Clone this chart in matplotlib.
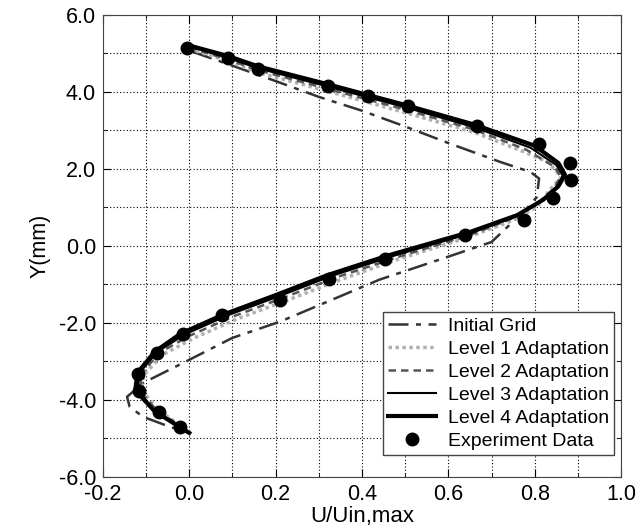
import matplotlib.pyplot as plt
from matplotlib.ticker import MultipleLocator

plt.rcParams['font.family'] = ['Liberation Sans', 'DejaVu Sans']

# experiment data
x_exp = [-0.005, 0.089, 0.159, 0.321, 0.413, 0.506, 0.666, 0.809, 0.881, 0.883, 0.842, 0.775,
         0.638, 0.453, 0.323, 0.21, 0.075, -0.015, -0.075, -0.119, -0.117, -0.07, -0.022]
y_exp = [5.14, 4.88, 4.60, 4.16, 3.90, 3.64, 3.12, 2.65, 2.16, 1.71, 1.25, 0.68,
         0.27, -0.34, -0.86, -1.40, -1.79, -2.30, -2.78, -3.32, -3.77, -4.31, -4.70]

# initial grid
x0 = [0.008, 0.10, 0.20, 0.30, 0.40, 0.50, 0.60, 0.72, 0.79, 0.81, 0.805, 0.78, 0.70, 0.60,
      0.44, 0.32, 0.21, 0.10, 0.0, -0.105, -0.144, -0.138, -0.107, -0.045, 0.001]
y0 = [5.04, 4.68, 4.28, 3.87, 3.51, 3.10, 2.67, 2.18, 1.92, 1.75, 1.27, 0.95, 0.10, -0.28,
      -0.88, -1.45, -1.97, -2.39, -2.96, -3.55, -3.92, -4.18, -4.44, -4.70, -4.86]

# level 1
x1 = [0.0, 0.09, 0.16, 0.32, 0.41, 0.50, 0.66, 0.78, 0.83, 0.862, 0.835, 0.805, 0.74, 0.64,
      0.48, 0.35, 0.23, 0.11, 0.01, -0.06, -0.105, -0.11, -0.07, 0.0]
y1 = [5.12, 4.80, 4.50, 4.02, 3.74, 3.46, 2.95, 2.42, 2.18, 1.80, 1.45, 1.01, 0.62, 0.20,
      -0.36, -0.88, -1.40, -1.90, -2.40, -2.82, -3.34, -3.76, -4.28, -4.83]

# level 2
x2 = [0.0, 0.09, 0.16, 0.32, 0.41, 0.50, 0.66, 0.78, 0.845, 0.86, 0.845, 0.81, 0.75, 0.65,
      0.48, 0.34, 0.22, 0.10, 0.0, -0.07, -0.11, -0.115, -0.075, 0.0]
y2 = [5.15, 4.84, 4.56, 4.08, 3.81, 3.54, 3.02, 2.50, 2.06, 1.80, 1.50, 1.14, 0.72, 0.28,
      -0.30, -0.82, -1.34, -1.84, -2.34, -2.78, -3.32, -3.75, -4.28, -4.83]

# level 3
x3 = [0.0, 0.09, 0.16, 0.32, 0.41, 0.50, 0.66, 0.79, 0.85, 0.865, 0.85, 0.815, 0.755, 0.65,
      0.47, 0.33, 0.21, 0.09, -0.01, -0.075, -0.115, -0.12, -0.08, 0.0]
y3 = [5.18, 4.88, 4.61, 4.14, 3.87, 3.60, 3.08, 2.55, 2.10, 1.82, 1.52, 1.17, 0.76, 0.32,
      -0.27, -0.78, -1.30, -1.80, -2.30, -2.76, -3.30, -3.74, -4.28, -4.84]

# level 4
x4 = [-0.005, 0.09, 0.16, 0.32, 0.41, 0.50, 0.66, 0.80, 0.855, 0.87, 0.855, 0.82, 0.76, 0.65,
      0.46, 0.32, 0.20, 0.08, -0.02, -0.08, -0.12, -0.125, -0.08, 0.0]
y4 = [5.22, 4.93, 4.66, 4.20, 3.93, 3.66, 3.15, 2.60, 2.15, 1.85, 1.55, 1.20, 0.80, 0.36,
      -0.25, -0.76, -1.28, -1.78, -2.28, -2.75, -3.30, -3.75, -4.30, -4.86]

fig = plt.figure(figsize=(6.39, 5.31), dpi=100)
ax = fig.add_axes([0.161, 0.102, 0.811, 0.870])

ax.plot(x0, y0, color='#333333', lw=1.8, dashes=(8, 3, 2, 3), label='Initial Grid')
ax.plot(x1, y1, color='#b0b0b0', lw=2.5, dashes=(1, 1), label='Level 1 Adaptation')
ax.plot(x2, y2, color='#555555', lw=1.8, dashes=(3, 2), label='Level 2 Adaptation')
ax.plot(x3, y3, color='black', lw=1.5, label='Level 3 Adaptation')
ax.plot(x4, y4, color='black', lw=3.0, label='Level 4 Adaptation')
ax.plot(x_exp, y_exp, 'o', color='black', ms=9, label='Experiment Data')

ax.set_xlim(-0.2, 1.0)
ax.set_ylim(-6.0, 6.0)
ax.xaxis.set_major_locator(MultipleLocator(0.2))
ax.xaxis.set_minor_locator(MultipleLocator(0.1))
ax.yaxis.set_major_locator(MultipleLocator(2.0))
ax.yaxis.set_minor_locator(MultipleLocator(1.0))
ax.set_xticklabels([f'{v:.1f}' for v in ax.get_xticks()])
ax.set_yticklabels([f'{v:.1f}' for v in ax.get_yticks()])
ax.grid(which='both', color='black', lw=0.8, ls=(0, (1, 2)))
ax.tick_params(which='both', direction='in', top=True, right=True, labelsize=15.5)
ax.tick_params(which='major', length=6)
ax.tick_params(which='minor', length=3)
ax.tick_params(axis='x', pad=5)
ax.tick_params(axis='y', pad=5)
for s in ax.spines.values():
    s.set_color('#444444')

ax.set_xlabel('U/Uin,max', fontsize=16, labelpad=1)
ax.set_ylabel('Y(mm)', fontsize=15.5, labelpad=6)

leg = ax.legend(loc='lower right', bbox_to_anchor=(0.986, 0.048), fontsize=14,
                fancybox=False, edgecolor='#444444', framealpha=1, handlelength=2.5,
                labelspacing=0.28, borderpad=0.25, handletextpad=0.6, borderaxespad=0)
leg.get_frame().set_linewidth(1.0)

fig.savefig('out.png', dpi=100)
